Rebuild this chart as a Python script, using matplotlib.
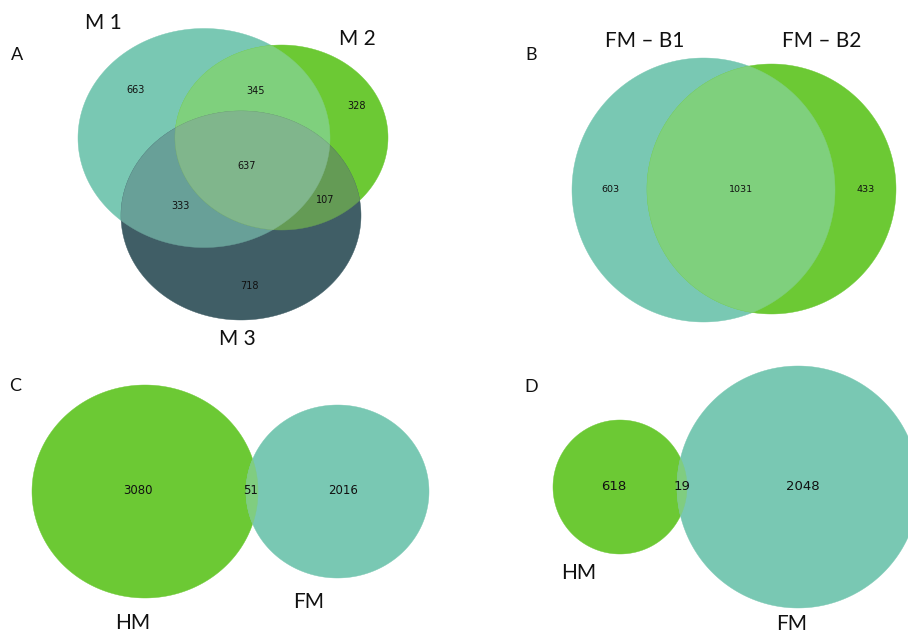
import numpy as np
import matplotlib
matplotlib.use("Agg")
import matplotlib.pyplot as plt
from matplotlib.patches import Polygon

# ---------------------------------------------------------------- data
panel_letters = ["A", "B", "C", "D"]

# Panel A: three sets, region counts keyed by membership (M1, M2, M3)
a_sets = ["M 1", "M 2", "M 3"]
a_regions = ["100", "010", "001", "110", "101", "011", "111"]
a_counts = [663, 328, 718, 345, 333, 107, 637]

# Panels B-D: two sets, counts for (only first, both, only second)
b_sets = ["FM – B1", "FM – B2"]
b_counts = [603, 1031, 433]

c_sets = ["HM", "FM"]
c_counts = [3080, 51, 2016]

d_sets = ["HM", "FM"]
d_counts = [618, 19, 2048]

# ---------------------------------------------------------------- style
TEAL = "#79C8B3"
GREEN = "#6CC934"
SLATE = "#405E66"
A_MIX = {"110": "#7FD07D", "101": "#68A098", "011": "#649B55", "111": "#80B68C"}
B_MIX = "#7FD07D"
CD_MIX = "#80CD80"
TXT = "#111111"

plt.rcParams["font.family"] = ["Lato", "DejaVu Sans"]

# ---------------------------------------------------------------- layout (pixel space)
W, H = 908, 634
a_shapes = [(204, 138, 252, 219), (281.5, 137.5, 213, 185), (241, 215.5, 240, 209)]
a_count_xy = {"100": (136, 90), "010": (357, 106), "001": (249, 286),
              "110": (256, 91), "101": (180, 206), "011": (325, 200), "111": (247, 166)}
a_label_xy = [(103, 23), (357, 39), (237, 339)]

b_shapes = [(703.5, 190, 263, 264), (771.5, 189, 249, 250)]
b_count_xy = [(610, 190), (741, 190), (866, 190)]
b_label_xy = [(645, 41), (822, 41)]

c_shapes = [(145, 491.5, 226, 213), (337.5, 491.5, 183, 173)]
c_count_xy = [(138, 491), (251, 491), (343, 491)]
c_label_xy = [(133, 623), (309, 602)]

d_shapes = [(620, 487, 134, 134), (798, 487, 242, 242)]
d_count_xy = [(614, 487), (682, 487), (803, 487)]
d_label_xy = [(579, 573), (792, 624)]

letter_xy = [(17, 55), (531, 55), (15, 386), (531, 387)]


def ellipse_poly(shape, n=400):
    cx, cy, w, h = shape
    t = np.linspace(0, 2 * np.pi, n, endpoint=False)
    return np.column_stack([cx + w / 2 * np.cos(t), cy + h / 2 * np.sin(t)])


def clip_convex(subject, clipper):
    """Sutherland-Hodgman clipping of a polygon by a convex polygon."""
    area = np.sum(clipper[:, 0] * np.roll(clipper[:, 1], -1)
                  - np.roll(clipper[:, 0], -1) * clipper[:, 1])
    sgn = 1.0 if area > 0 else -1.0
    out = list(map(tuple, subject))
    m = len(clipper)
    for i in range(m):
        a = clipper[i]
        b = clipper[(i + 1) % m]
        inp = out
        out = []
        if not inp:
            break

        def inside(p):
            return sgn * ((b[0] - a[0]) * (p[1] - a[1]) - (b[1] - a[1]) * (p[0] - a[0])) >= 0

        def cross_pt(p, q):
            x1, y1 = p
            x2, y2 = q
            dx, dy = x2 - x1, y2 - y1
            ex, ey = b[0] - a[0], b[1] - a[1]
            den = dx * ey - dy * ex
            t = ((a[0] - x1) * ey - (a[1] - y1) * ex) / den
            return (x1 + t * dx, y1 + t * dy)

        s = inp[-1]
        for e in inp:
            if inside(e):
                if not inside(s):
                    out.append(cross_pt(s, e))
                out.append(e)
            elif inside(s):
                out.append(cross_pt(s, e))
            s = e
    return np.array(out)


def fill(ax, poly, color):
    if len(poly) >= 3:
        ax.add_patch(Polygon(poly, closed=True, facecolor=color, edgecolor=color,
                             linewidth=0.3, zorder=1))


fig = plt.figure(figsize=(W / 100, H / 100), dpi=100)
ax = fig.add_axes([0, 0, 1, 1])
ax.set_xlim(0, W)
ax.set_ylim(H, 0)
ax.axis("off")

# ---- Panel A
polys = [ellipse_poly(s) for s in a_shapes]
for p, col in zip(polys, [TEAL, GREEN, SLATE]):
    fill(ax, p, col)
fill(ax, clip_convex(polys[1], polys[0]), A_MIX["110"])
fill(ax, clip_convex(polys[2], polys[0]), A_MIX["101"])
fill(ax, clip_convex(polys[2], polys[1]), A_MIX["011"])
fill(ax, clip_convex(clip_convex(polys[2], polys[0]), polys[1]), A_MIX["111"])
for key, n in zip(a_regions, a_counts):
    x, y = a_count_xy[key]
    ax.text(x, y, str(n), ha="center", va="center", fontsize=7,
            family="DejaVu Sans", color=TXT)
for name, (x, y) in zip(a_sets, a_label_xy):
    ax.text(x, y, name, ha="center", va="center", fontsize=15, color=TXT)


def two_set(shapes, colors, mix, counts, count_xy, names, label_xy, fsize):
    p1, p2 = (ellipse_poly(s) for s in shapes)
    fill(ax, p1, colors[0])
    fill(ax, p2, colors[1])
    fill(ax, clip_convex(p2, p1), mix)
    for n, (x, y) in zip(counts, count_xy):
        ax.text(x, y, str(n), ha="center", va="center", fontsize=fsize,
                family="DejaVu Sans", color=TXT)
    for name, (x, y) in zip(names, label_xy):
        ax.text(x, y, name, ha="center", va="center", fontsize=15, color=TXT)


two_set(b_shapes, [TEAL, GREEN], B_MIX, b_counts, b_count_xy, b_sets, b_label_xy, 6.8)
two_set(c_shapes, [GREEN, TEAL], CD_MIX, c_counts, c_count_xy, c_sets, c_label_xy, 8.5)
two_set(d_shapes, [GREEN, TEAL], CD_MIX, d_counts, d_count_xy, d_sets, d_label_xy, 9.5)

for letter, (x, y) in zip(panel_letters, letter_xy):
    ax.text(x, y, letter, ha="center", va="center", fontsize=13, color=TXT)

fig.savefig("out.png", dpi=100)
